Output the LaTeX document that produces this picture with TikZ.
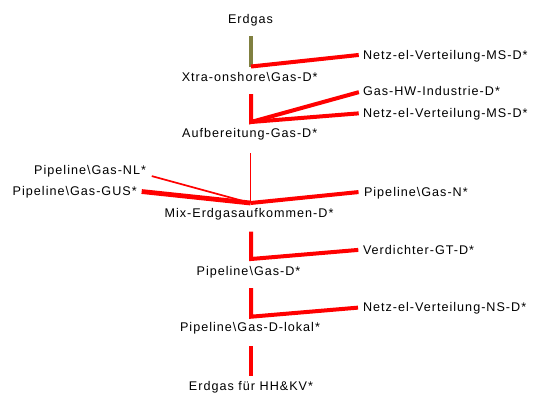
\documentclass[tikz,border=0pt]{standalone}
\usepackage{fontspec}
\setmainfont{Liberation Sans}[LetterSpace=8]
\definecolor{flowred}{RGB}{255,0,0}
\definecolor{flowolive}{RGB}{128,128,64}
\begin{document}
\begin{tikzpicture}[x=1bp,y=-1bp,
  lbl/.style={font=\fontsize{12.6bp}{15bp}\selectfont, inner sep=0pt, outer sep=0pt,
              text height=9bp, text depth=0pt},
  flow/.style={draw=flowred, line width=4bp},
  thinflow/.style={draw=flowred, line width=1.7bp},
  oliveflow/.style={draw=flowolive, line width=3.5bp}]
\useasboundingbox (0,0) rectangle (535,394);

% main chain
\node[lbl, anchor=base] (erdgas) at (250.5,23.3) {Erdgas};
\node[lbl, anchor=base] (xtra)   at (249.7,81)   {Xtra-onshore\textbackslash Gas-D*};
\node[lbl, anchor=base] (aufb)   at (249.7,137)  {Aufbereitung-Gas-D*};
\node[lbl, anchor=base] (mix)    at (249,217)    {Mix-Erdgasaufkommen-D*};
\node[lbl, anchor=base] (pipd)   at (248.5,275)  {Pipeline\textbackslash Gas-D*};
\node[lbl, anchor=base] (lokal)  at (250,331.7)  {Pipeline\textbackslash Gas-D-lokal*};
\node[lbl, anchor=base] (hhkv)   at (251,390)    {Erdgas für HH\&KV*};

% branches to the right
\node[lbl, anchor=base west] (msa)    at (363,59)    {Netz-el-Verteilung-MS-D*};
\node[lbl, anchor=base west] (hwind)  at (363,95.5)  {Gas-HW-Industrie-D*};
\node[lbl, anchor=base west] (msb)    at (363,117.5) {Netz-el-Verteilung-MS-D*};
\node[lbl, anchor=base west] (gasn)   at (364,196)   {Pipeline\textbackslash Gas-N*};
\node[lbl, anchor=base west] (verd)   at (363,254)   {Verdichter-GT-D*};
\node[lbl, anchor=base west] (netzns) at (363,311.7) {Netz-el-Verteilung-NS-D*};

% imports on the left
\node[lbl, anchor=base east] (gasnl)  at (146,174.5)   {Pipeline\textbackslash Gas-NL*};
\node[lbl, anchor=base east] (gasgus) at (136.7,195.5) {Pipeline\textbackslash Gas-GUS*};

% junction points
\coordinate (j1) at (251,66.5);
\coordinate (j2) at (251,122);
\coordinate (jm) at (250.5,203);
\coordinate (j4) at (251,259);
\coordinate (j5) at (251,316.7);

% flows
\draw[oliveflow, shorten <=12.7bp] (erdgas.south -| j1) -- (j1);
\draw[flow, shorten >=4.3bp] (j1) -- (msa.west);

\draw[flow, shorten <=13bp, shorten >=4.3bp] (xtra.south -| j2) -- (j2) -- (hwind.west);
\draw[flow, shorten >=4.3bp] (j2) -- (msb.west);

\draw[thinflow, shorten <=16bp] (aufb.south -| jm) -- (jm);
\draw[thinflow, shorten <=6bp] (gasnl.south east) -- (jm);
\draw[flow, line width=4.8bp, shorten <=5bp] (gasgus.east) -- (jm);
\draw[flow, shorten >=5.5bp] (jm) -- (gasn.west);

\draw[flow, shorten <=14.7bp, shorten >=4.7bp] (mix.south -| j4) -- (j4) -- (verd.west);
\draw[flow, shorten <=13bp, shorten >=5bp] (pipd.south -| j5) -- (j5) -- (netzns.west);
\draw[flow, shorten <=14.3bp, shorten >=5bp] (lokal.south -| hhkv.north) -- (hhkv.north);
\end{tikzpicture}
\end{document}
